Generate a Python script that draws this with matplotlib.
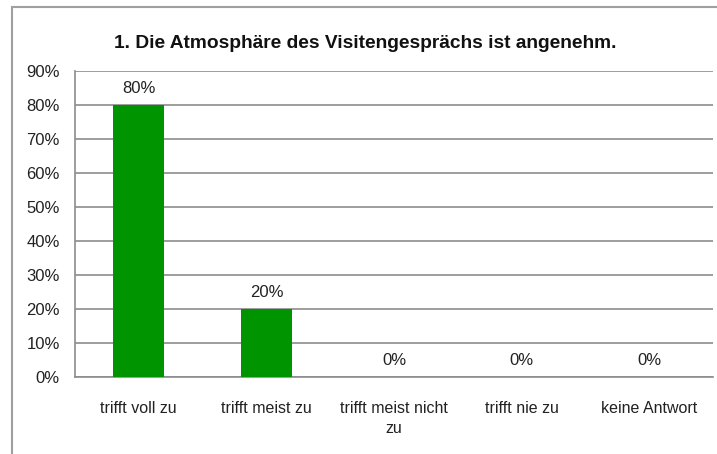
import matplotlib.pyplot as plt
from matplotlib.patches import Rectangle
from matplotlib.ticker import PercentFormatter

plt.rcParams['font.family'] = ['Liberation Sans', 'DejaVu Sans']

title = '1. Die Atmosphäre des Visitengesprächs ist angenehm.'
categories = ['trifft voll zu', 'trifft meist zu', 'trifft meist nicht\nzu',
              'trifft nie zu', 'keine Antwort']
values = [80, 20, 0, 0, 0]
y_ticks = [0, 10, 20, 30, 40, 50, 60, 70, 80, 90]

fig = plt.figure(figsize=(7.17, 4.54), dpi=100)

# graue Rahmenlinie oben und links (Rest liegt ausserhalb des Bildes)
fig.patches.append(Rectangle((12 / 717, -0.1), 1.2, 1 - 7 / 454 + 0.1,
                             transform=fig.transFigure, fill=False,
                             edgecolor='#a0a0a0', linewidth=1.5))

ax = fig.add_axes([75 / 717, 1 - 377 / 454, (713 - 75) / 717, (377 - 71) / 454])

x = range(len(categories))
ax.bar(x, values, width=0.4, color='#009400', zorder=3)

for xi, v in zip(x, values):
    ax.annotate('%d%%' % v, xy=(xi, v), xytext=(0, 12), textcoords='offset points',
                ha='center', va='center', fontsize=12, color='#222222')

ax.set_xlim(-0.5, 4.5)
ax.set_ylim(0, 90)
ax.set_yticks(y_ticks)
ax.yaxis.set_major_formatter(PercentFormatter(decimals=0))
ax.set_xticks(list(x))
ax.set_xticklabels(categories, fontsize=11.5, color='#222222', linespacing=1.45)
ax.tick_params(axis='x', length=0, pad=17)
ax.tick_params(axis='y', length=0, pad=11, labelsize=12, labelcolor='#222222')

ax.grid(axis='y', color='#8c8c8c', linewidth=1.2, zorder=0)
for side in ['top', 'right']:
    ax.spines[side].set_visible(False)
for side in ['left', 'bottom']:
    ax.spines[side].set_color('#8c8c8c')
    ax.spines[side].set_linewidth(1.2)

fig.text(365 / 717, 1 - 44 / 454, title, ha='center', va='center',
         fontsize=13.8, fontweight='bold', color='#111111')

fig.savefig('out.png', dpi=100)
